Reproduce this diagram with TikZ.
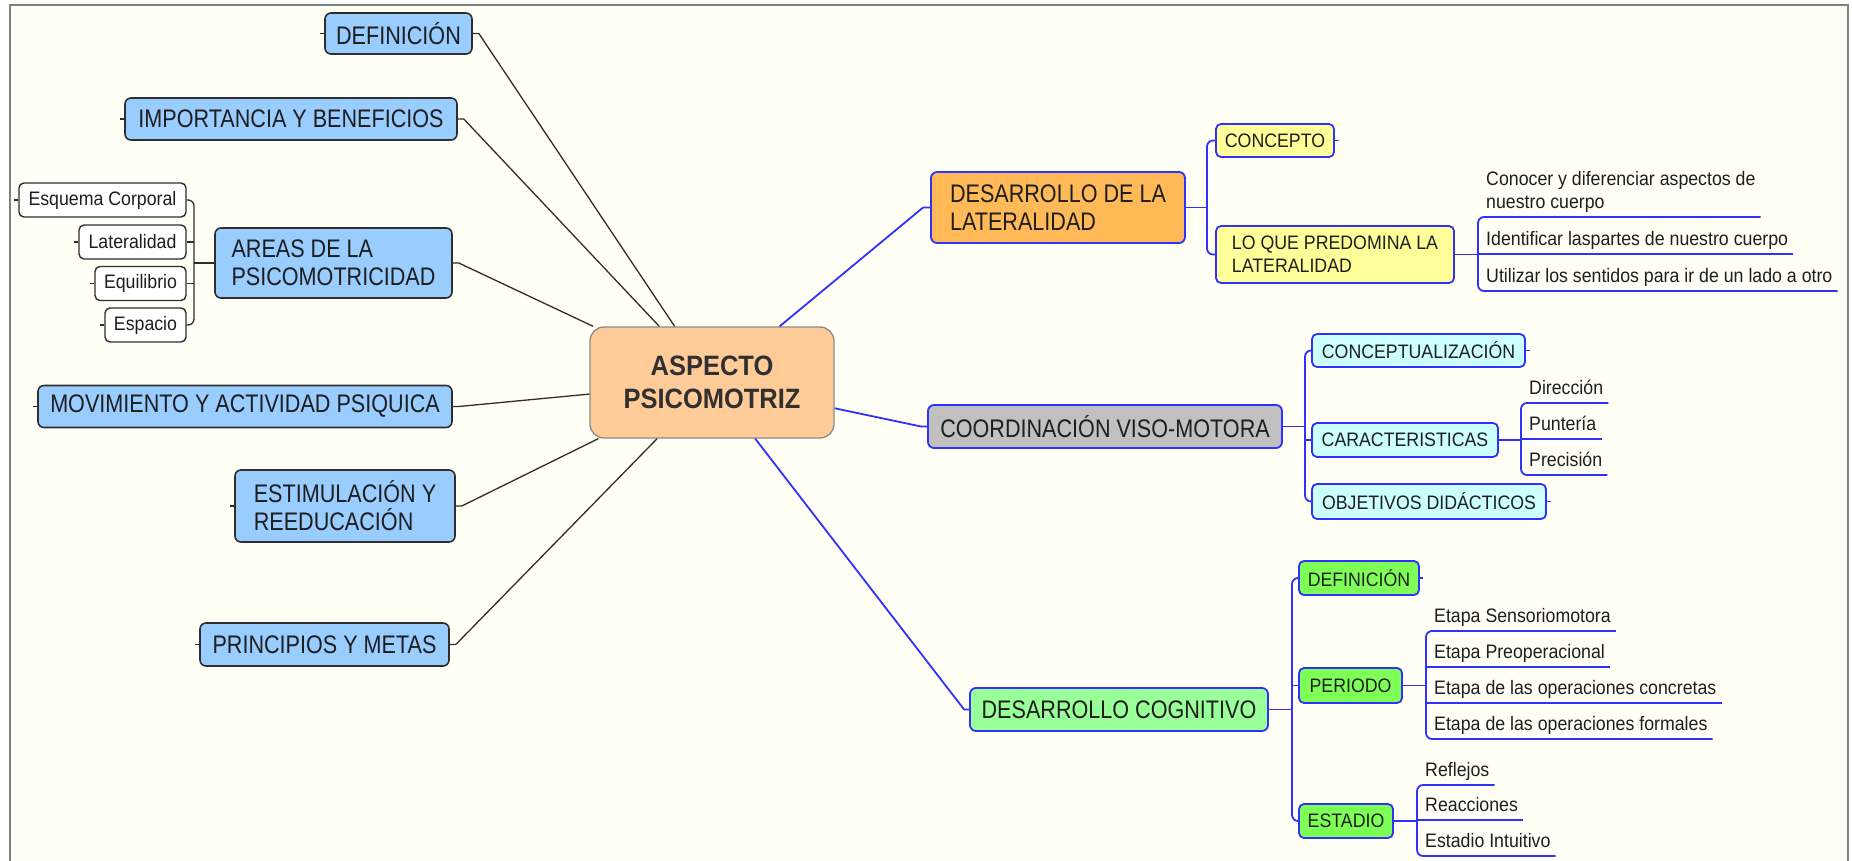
\documentclass[tikz,border=0pt]{standalone}
\usepackage{fontspec}
\setmainfont{Liberation Sans}
\newfontfamily\bigfam[FakeStretch=0.85]{Liberation Sans}
\newfontfamily\smallfam[FakeStretch=0.91]{Liberation Sans}
\newfontfamily\centerfam[FakeStretch=0.91]{Liberation Sans}
\usetikzlibrary{calc}
\definecolor{cream}{HTML}{FFFFF5}
\definecolor{framec}{HTML}{808080}
\definecolor{txt}{HTML}{1E1E1E}
\definecolor{ctxt}{HTML}{303030}
\definecolor{dk}{HTML}{2E2E2E}
\definecolor{bl}{HTML}{3030FF}
\definecolor{lblue}{HTML}{99CCFF}
\definecolor{peach}{HTML}{FFCC99}
\definecolor{aspb}{HTML}{8A8A8A}
\definecolor{orng}{HTML}{FFBA57}
\definecolor{ylw}{HTML}{FFFF99}
\definecolor{gry}{HTML}{C0C0C0}
\definecolor{cyn}{HTML}{CCFFFF}
\definecolor{lgrn}{HTML}{99FF99}
\definecolor{grn}{HTML}{7DFF55}
\newcommand\fbig{\bigfam\fontsize{25.4}{28}\selectfont}
\newcommand\fsmall{\smallfam\fontsize{19.5}{23}\selectfont}
\newcommand\fcenter{\centerfam\fontsize{28}{33}\selectfont\bfseries}
\begin{document}
\begin{tikzpicture}[x=1pt,y=-1pt,
  every node/.style={inner sep=0pt, text=txt},
  lbox/.style={draw=dk, line width=1.6pt, rounded corners=6pt, fill=lblue, font=\fbig, align=left},
  lleaf/.style={draw=dk, line width=1.4pt, rounded corners=5pt, fill=white, font=\fsmall},
  rbox/.style={draw=bl, line width=1.8pt, rounded corners=6pt, font=\fbig, align=left},
  rsub/.style={draw=bl, line width=1.8pt, rounded corners=5pt, font=\fsmall, align=left},
  uleaf/.style={anchor=south west, inner xsep=5pt, inner ysep=3.5pt, text depth=4.5pt, font=\fsmall, align=left},
  dline/.style={draw=dk, line width=1.3pt},
  bline/.style={draw=bl, line width=1.8pt},
  brk/.style={rounded corners=6pt}
]
\useasboundingbox (0,0) rectangle (1852,861);
\fill[white] (0,0) rectangle (1852,861);
\draw[fill=cream, draw=framec, line width=2pt] (9.5,5.5) rectangle (1848,900);

% center
\node[draw=aspb, line width=1.3pt, fill=peach, rounded corners=14pt, minimum width=244pt, minimum height=111pt, font=\fcenter, align=center, text=ctxt] (asp) at (712,382.5) {ASPECTO\\PSICOMOTRIZ};

% left side
\node[lbox, minimum width=147pt, minimum height=41pt] (ldef) at (398.5,33.5) {DEFINICIÓN};
\node[lbox, minimum width=332pt, minimum height=42pt] (imp) at (291,119) {IMPORTANCIA Y BENEFICIOS};
\node[lbox, minimum width=237pt, minimum height=70pt] (areas) at (333.5,263) {AREAS DE LA\\PSICOMOTRICIDAD};
\node[lleaf, minimum width=167pt, minimum height=34pt] (esq) at (102.5,200) {Esquema Corporal};
\node[lleaf, minimum width=107pt, minimum height=34pt] (lat) at (132.5,242) {Lateralidad};
\node[lleaf, minimum width=91pt, minimum height=34pt] (equ) at (140.5,283.5) {Equilibrio};
\node[lleaf, minimum width=81pt, minimum height=34pt] (esp) at (145.5,325) {Espacio};
\node[lbox, minimum width=414pt, minimum height=42pt] (mov) at (245,406.5) {MOVIMIENTO Y ACTIVIDAD PSIQUICA};
\node[lbox, minimum width=220pt, minimum height=72pt] (est) at (345,506) {ESTIMULACIÓN Y\\REEDUCACIÓN};
\node[lbox, minimum width=249pt, minimum height=43pt] (pri) at (324.5,644.5) {PRINCIPIOS Y METAS};

\foreach \n in {ldef,imp,areas,mov,est,pri}{
  \draw[dline] (\n.east) -- ++(6,0) -- (asp);
}
\foreach \n in {ldef,imp,mov,est,pri,esq,lat,equ,esp}{
  \draw[dline] (\n.west) -- ++(-4,0);
}
\coordinate (bka) at (194,0);
\draw[dline, brk] (esq.east) -- (esq.east -| bka) -- (esp.east -| bka) -- (esp.east);
\draw[dline] (lat.east) -- (lat.east -| bka);
\draw[dline] (equ.east) -- (equ.east -| bka);
\draw[dline] (areas.west) -- (areas.west -| bka);

% right: desarrollo de la lateralidad
\node[rbox, fill=orng, minimum width=254pt, minimum height=71pt] (dlat) at (1058,207.5) {DESARROLLO DE LA\\LATERALIDAD};
\node[rsub, fill=ylw, minimum width=118pt, minimum height=33pt] (conc) at (1275,140.5) {CONCEPTO};
\node[rsub, fill=ylw, minimum width=238pt, minimum height=57pt] (loque) at (1335,254.5) {LO QUE PREDOMINA LA\\LATERALIDAD};
\draw[bline] (dlat.west) -- ++(-7,0) -- (asp);
\coordinate (bkd) at (1207,0);
\draw[bline, brk] (conc.west) -- (conc.west -| bkd) -- (loque.west -| bkd) -- (loque.west);
\draw[bline] (dlat.east) -- (dlat.east -| bkd);
\draw[bline] (conc.east) -- ++(4,0);

\node[uleaf] (l1) at (1481,217) {Conocer y diferenciar aspectos de\\nuestro cuerpo};
\node[uleaf] (l2) at (1481,254) {Identificar laspartes de nuestro cuerpo};
\node[uleaf] (l3) at (1481,291) {Utilizar los sentidos para ir de un lado a otro};
\coordinate (bkl) at (1478,0);
\draw[bline, brk] (l1.south east) -- (l1.south -| bkl) -- (l3.south -| bkl) -- (l3.south east);
\draw[bline] (l2.south -| bkl) -- (l2.south east);
\draw[bline] (loque.east) -- (loque.east -| bkl);

% right: coordinacion viso-motora
\node[rbox, fill=gry, minimum width=354pt, minimum height=43pt] (coord) at (1105,426.5) {COORDINACIÓN VISO-MOTORA};
\node[rsub, fill=cyn, minimum width=213pt, minimum height=33pt] (cptu) at (1418.5,350.5) {CONCEPTUALIZACIÓN};
\node[rsub, fill=cyn, minimum width=186pt, minimum height=34pt] (carac) at (1405,440) {CARACTERISTICAS};
\node[rsub, fill=cyn, minimum width=234pt, minimum height=35pt] (obj) at (1429,501.5) {OBJETIVOS DIDÁCTICOS};
\draw[bline] (coord.west) -- ++(-6,0) -- (asp);
\coordinate (bkc) at (1305,0);
\draw[bline, brk] (cptu.west) -- (cptu.west -| bkc) -- (obj.west -| bkc) -- (obj.west);
\draw[bline] (carac.west) -- (carac.west -| bkc);
\draw[bline] (coord.east) -- (coord.east -| bkc);
\draw[bline] (cptu.east) -- ++(4,0);
\draw[bline] (obj.east) -- ++(4,0);

\node[uleaf] (c1) at (1524,403) {Dirección};
\node[uleaf] (c2) at (1524,439) {Puntería};
\node[uleaf] (c3) at (1524,475) {Precisión};
\coordinate (bkk) at (1521,0);
\draw[bline, brk] (c1.south east) -- (c1.south -| bkk) -- (c3.south -| bkk) -- (c3.south east);
\draw[bline] (c2.south -| bkk) -- (c2.south east);
\draw[bline] (carac.east) -- (carac.east -| bkk);

% right: desarrollo cognitivo
\node[rbox, fill=lgrn, minimum width=298pt, minimum height=43pt] (cog) at (1119,709.5) {DESARROLLO COGNITIVO};
\node[rsub, fill=grn, minimum width=120pt, minimum height=34pt] (gdef) at (1359,578) {DEFINICIÓN};
\node[rsub, fill=grn, minimum width=103pt, minimum height=35pt] (per) at (1350.5,685.5) {PERIODO};
\node[rsub, fill=grn, minimum width=94pt, minimum height=34pt] (estad) at (1346,821) {ESTADIO};
\draw[bline] (cog.west) -- ++(-5,0) -- (asp);
\coordinate (bkg) at (1292,0);
\draw[bline, brk] (gdef.west) -- (gdef.west -| bkg) -- (estad.west -| bkg) -- (estad.west);
\draw[bline] (per.west) -- (per.west -| bkg);
\draw[bline] (cog.east) -- (cog.east -| bkg);
\draw[bline] (gdef.east) -- ++(3,0);

\node[uleaf] (e1) at (1429,631) {Etapa Sensoriomotora};
\node[uleaf] (e2) at (1429,667) {Etapa Preoperacional};
\node[uleaf] (e3) at (1429,703) {Etapa de las operaciones concretas};
\node[uleaf] (e4) at (1429,739) {Etapa de las operaciones formales};
\coordinate (bke) at (1426,0);
\draw[bline, brk] (e1.south east) -- (e1.south -| bke) -- (e4.south -| bke) -- (e4.south east);
\draw[bline] (e2.south -| bke) -- (e2.south east);
\draw[bline] (e3.south -| bke) -- (e3.south east);
\draw[bline] (per.east) -- (per.east -| bke);

\node[uleaf] (s1) at (1420,785) {Reflejos};
\node[uleaf] (s2) at (1420,820) {Reacciones};
\node[uleaf] (s3) at (1420,856) {Estadio Intuitivo};
\coordinate (bks) at (1417,0);
\draw[bline, brk] (s1.south east) -- (s1.south -| bks) -- (s3.south -| bks) -- (s3.south east);
\draw[bline] (s2.south -| bks) -- (s2.south east);
\draw[bline] (estad.east) -- (estad.east -| bks);
\end{tikzpicture}
\end{document}
